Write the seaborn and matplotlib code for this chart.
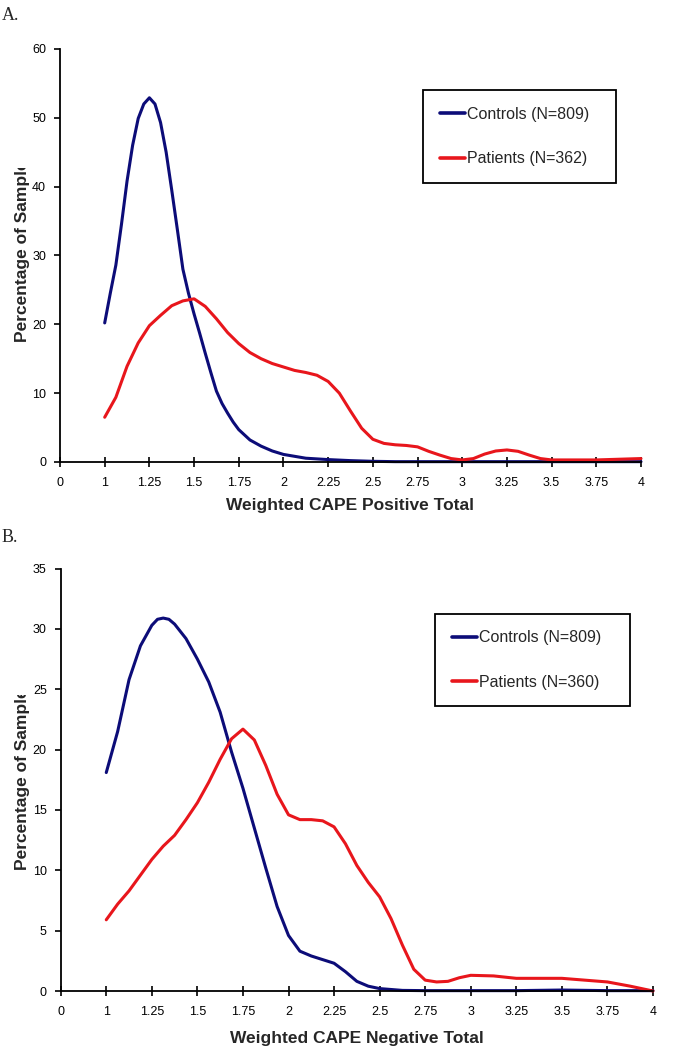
import numpy as np
import pandas as pd
import matplotlib
matplotlib.use("Agg")
import matplotlib.pyplot as plt
import seaborn as sns
from matplotlib.transforms import Bbox

# ---------------- data ----------------
tick_values = [0, 1, 1.25, 1.5, 1.75, 2, 2.25, 2.5, 2.75, 3, 3.25, 3.5, 3.75, 4]
tick_labels = ["0", "1", "1.25", "1.5", "1.75", "2", "2.25", "2.5", "2.75",
               "3", "3.25", "3.5", "3.75", "4"]

# Panel A: Weighted CAPE Positive Total
a_ctrl_score = [1.0, 1.03125, 1.0625, 1.09375, 1.125, 1.15625, 1.1875, 1.21875,
                1.25, 1.28125, 1.3125, 1.34375, 1.375, 1.40625, 1.4375, 1.46875,
                1.5, 1.53125, 1.5625, 1.59375, 1.625, 1.65625, 1.6875, 1.71875,
                1.75, 1.8125, 1.875, 1.9375, 2.0, 2.125, 2.25, 2.375, 2.5, 2.625,
                2.75, 3.0, 3.25, 3.5, 3.75, 4.0]
a_ctrl_pct = [20.2, 24.5, 28.6, 34.5, 40.8, 46.0, 49.9, 52.0,
              52.9, 52.0, 49.3, 45.0, 39.5, 33.8, 28.0, 24.5,
              21.5, 18.7, 15.8, 13.0, 10.3, 8.5, 7.1, 5.8,
              4.7, 3.2, 2.3, 1.6, 1.1, 0.55, 0.35, 0.2, 0.1, 0.05,
              0.05, 0.05, 0.05, 0.05, 0.05, 0.05]

a_pat_score = [1.0, 1.0625, 1.125, 1.1875, 1.25, 1.3125, 1.375, 1.4375, 1.5, 1.5625,
               1.625, 1.6875, 1.75, 1.8125, 1.875, 1.9375, 2.0, 2.0625, 2.125, 2.1875,
               2.25, 2.3125, 2.375, 2.4375, 2.5, 2.5625, 2.625, 2.6875, 2.75, 2.8125,
               2.875, 2.9375, 3.0, 3.0625, 3.125, 3.1875, 3.25, 3.3125, 3.375, 3.4375,
               3.5, 3.625, 3.75, 3.875, 4.0]
a_pat_pct = [6.5, 9.4, 13.9, 17.3, 19.8, 21.3, 22.7, 23.4, 23.7, 22.6,
             20.8, 18.8, 17.2, 15.9, 15.0, 14.3, 13.8, 13.3, 13.0, 12.6,
             11.7, 10.0, 7.4, 4.9, 3.3, 2.7, 2.5, 2.4, 2.2, 1.55,
             1.0, 0.5, 0.3, 0.5, 1.15, 1.6, 1.75, 1.55, 1.0, 0.5,
             0.3, 0.3, 0.3, 0.4, 0.5]

# Panel B: Weighted CAPE Negative Total
b_ctrl_score = [1.0, 1.0625, 1.125, 1.1875, 1.25, 1.28125, 1.3125, 1.34375, 1.375,
                1.4375, 1.5, 1.5625, 1.625, 1.6875, 1.75, 1.8125, 1.875, 1.9375,
                2.0, 2.0625, 2.125, 2.1875, 2.25, 2.3125, 2.375, 2.4375, 2.5,
                2.625, 2.75, 3.0, 3.25, 3.5, 3.75, 4.0]
b_ctrl_pct = [18.1, 21.5, 25.8, 28.6, 30.3, 30.8, 30.9, 30.8, 30.4,
              29.2, 27.5, 25.6, 23.1, 19.8, 16.8, 13.5, 10.2, 7.0,
              4.6, 3.3, 2.9, 2.6, 2.3, 1.6, 0.8, 0.4, 0.2,
              0.05, 0.03, 0.03, 0.03, 0.08, 0.03, 0.03]

b_pat_score = [1.0, 1.0625, 1.125, 1.1875, 1.25, 1.3125, 1.375, 1.4375, 1.5, 1.5625,
               1.625, 1.6875, 1.75, 1.8125, 1.875, 1.9375, 2.0, 2.0625, 2.125, 2.1875,
               2.25, 2.3125, 2.375, 2.4375, 2.5, 2.5625, 2.625, 2.6875, 2.75, 2.8125,
               2.875, 2.9375, 3.0, 3.125, 3.25, 3.5, 3.625, 3.75, 3.875, 4.0]
b_pat_pct = [5.9, 7.2, 8.3, 9.6, 10.9, 12.0, 12.9, 14.2, 15.6, 17.3,
             19.2, 20.9, 21.7, 20.8, 18.7, 16.3, 14.6, 14.2, 14.2, 14.1,
             13.6, 12.2, 10.4, 9.0, 7.8, 6.0, 3.8, 1.8, 0.9, 0.75,
             0.8, 1.1, 1.3, 1.25, 1.05, 1.05, 0.9, 0.75, 0.4, 0.0]

a_labels = ["Controls (N=809)", "Patients (N=362)"]
b_labels = ["Controls (N=809)", "Patients (N=360)"]

BLUE = "#0c0c78"
RED = "#e8161c"

# ---------------- helpers ----------------
def to_pos(v):
    """Map a CAPE score to its position on the (categorical-like) x axis."""
    v = np.asarray(v, dtype=float)
    return np.where(v < 1, v, 1 + (v - 1) * 4)


sns.set_style("ticks")
plt.rcParams["font.family"] = ["Liberation Sans", "DejaVu Sans"]

W, H = 676, 1050
fig = plt.figure(figsize=(W / 100, H / 100), dpi=100)
fig.patch.set_facecolor("white")


def panel(ax, cx, cy, px, py, labels, ymax, ystep, xlabel,
          xlab_xy, ylab_xy, clip_top_px, leg_box, letter, letter_y):
    df = pd.concat([
        pd.DataFrame({"pos": to_pos(cx), "pct": cy, "group": labels[0]}),
        pd.DataFrame({"pos": to_pos(px), "pct": py, "group": labels[1]}),
    ], ignore_index=True)
    sns.lineplot(data=df, x="pos", y="pct", hue="group", palette=[BLUE, RED],
                 estimator=None, lw=2.2, ax=ax, legend=True)
    for ln in ax.lines:
        ln.set_clip_on(False)
        ln.set_solid_joinstyle("round")

    ax.set_xlim(0, 13)
    ax.set_ylim(0, ymax)
    ax.set_xticks(to_pos(tick_values))
    ax.set_xticklabels(tick_labels)
    yt = np.arange(0, ymax + 0.1, ystep)
    ax.set_yticks(yt)
    ax.set_yticklabels([f"{int(t)}" for t in yt])
    sns.despine(ax=ax)
    for s in ("left", "bottom"):
        ax.spines[s].set_color("black")
        ax.spines[s].set_linewidth(1.3)
    ax.tick_params(axis="x", direction="inout", length=7, width=1.2,
                   labelsize=9, pad=7.5, colors="black")
    ax.tick_params(axis="y", direction="out", length=4, width=1.2,
                   labelsize=9, pad=6, colors="black")

    ax.set_xlabel(xlabel, fontsize=12.5, fontweight="bold")
    ax.xaxis.set_label_coords(*xlab_xy)
    ax.xaxis.label.set_va("center")

    ax.set_ylabel("Percentage of Sample", fontsize=12.5, fontweight="bold")
    ax.yaxis.set_label_coords(*ylab_xy)
    ax.yaxis.label.set_ha("left")
    ax.yaxis.label.set_va("center")
    ax.yaxis.label.set_clip_box(Bbox.from_extents(0, 0, W, H - clip_top_px))
    ax.yaxis.label.set_clip_on(True)

    handles, labs = ax.get_legend_handles_labels()
    x0, ytop, wbox = leg_box
    leg = ax.legend(handles, labs, loc="upper left", mode="expand",
                    bbox_to_anchor=(x0 / W, 1 - ytop / H - 0.1, wbox / W, 0.1),
                    bbox_transform=fig.transFigure, frameon=True, fancybox=False,
                    edgecolor="black", framealpha=1, fontsize=11.5,
                    handlelength=1.6, handletextpad=0.12, labelspacing=1.84,
                    borderpad=1.05, borderaxespad=0)
    leg.get_frame().set_linewidth(1.3)
    for h in leg.get_lines():
        h.set_linewidth(2.6)

    fig.text(2 / W, 1 - letter_y / H, letter, fontsize=13,
             family=["Liberation Serif", "DejaVu Serif"], va="center", ha="left")


axA = fig.add_axes([60 / W, 1 - 462 / H, 581 / W, 413.1 / H])
panel(axA, a_ctrl_score, a_ctrl_pct, a_pat_score, a_pat_pct, a_labels,
      60, 10, "Weighted CAPE Positive Total",
      xlab_xy=(0.499, -(505.7 - 462) / 413.1),
      ylab_xy=((22 - 60) / 581, (462 - 342) / 413.1),
      clip_top_px=168, leg_box=(423, 90, 193), letter="A.", letter_y=15)

axB = fig.add_axes([60.7 / W, 1 - 991 / H, 592.3 / W, 422.4 / H])
panel(axB, b_ctrl_score, b_ctrl_pct, b_pat_score, b_pat_pct, b_labels,
      35, 5, "Weighted CAPE Negative Total",
      xlab_xy=(0.5, -(1038.7 - 991) / 422.4),
      ylab_xy=((22 - 60.7) / 592.3, (991 - 870) / 422.4),
      clip_top_px=695, leg_box=(435, 613.5, 195), letter="B.", letter_y=537)

fig.savefig("out.png", dpi=100, facecolor="white")
